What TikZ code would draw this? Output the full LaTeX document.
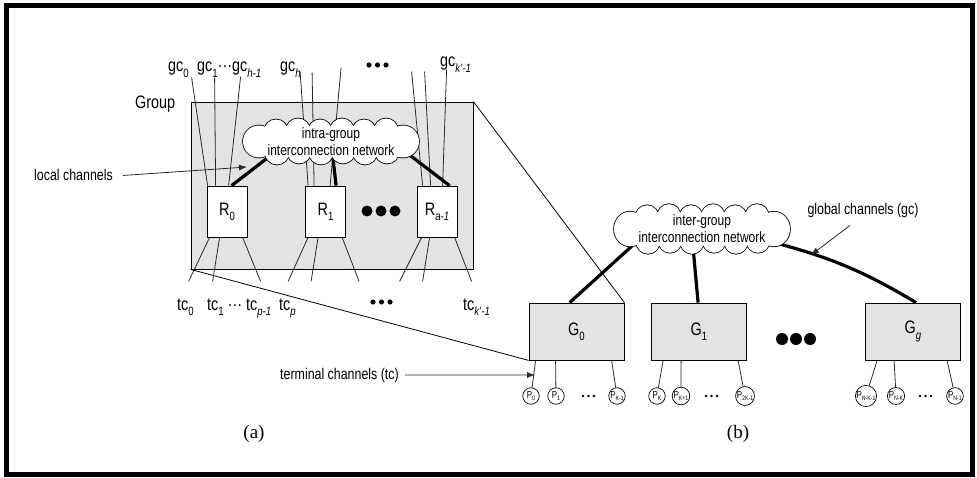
\documentclass[tikz,border=0pt]{standalone}
\usepackage{fontspec}
\setmainfont{Liberation Sans}[FakeStretch=0.8]
\newfontfamily\capfont{Liberation Serif}
\usetikzlibrary{arrows.meta}
\pgfdeclarelayer{bg}
\pgfdeclarelayer{wires}
\pgfdeclarelayer{puffs}
\pgfsetlayers{bg,wires,puffs,main}
\definecolor{boxgray}{HTML}{E3E3E3}
\definecolor{inkgray}{HTML}{2A2A2A}
\newcommand{\lowidx}[1]{\raisebox{-0.55ex}{\fontsize{12}{12}\selectfont #1}}
\newcommand{\tinyidx}[1]{\raisebox{-0.5ex}{\fontsize{6.5}{6.5}\selectfont #1}}
\newcommand{\cloudpuffs}{-72/0/16, -55/-10/12, -33/-11/12, -11/-10/12, 11/-11/12, 33/-10/12, 55/-11/12, 72/0/16, 56/10/12, 34/11/12, 12/10/12, -10/11/12, -32/10/12, -54/11/12}
\tikzset{grpframe/.style = {shape = rectangle, draw, fill = boxgray, line width = 0.8pt, minimum width = 282pt, minimum height = 167pt, inner sep = 0pt}}
\tikzset{router/.style = {shape = rectangle, draw, fill = white, line width = 0.8pt, minimum width = 40pt, minimum height = 51pt, inner sep = 0pt, font = \fontsize{18}{20}\selectfont}}
\tikzset{grpnode/.style = {shape = rectangle, draw, fill = boxgray, line width = 0.8pt, minimum width = 95pt, minimum height = 57pt, inner sep = 0pt, font = \fontsize{18}{20}\selectfont}}
\tikzset{proc/.style = {shape = circle, draw, fill = white, line width = 0.7pt, minimum size = 16.5pt, inner sep = 0pt, font = \fontsize{10}{10}\selectfont}}
\tikzset{netcloud/.style = {shape = rectangle, inner sep = 0pt, align = center, font = \fontsize{15}{17}\selectfont}}
\tikzset{biglabel/.style = {anchor = base west, font = \fontsize{18}{20}\selectfont, inner sep = 0pt}}
\tikzset{note/.style = {font = \fontsize{15.5}{18}\selectfont, inner sep = 0pt}}
\tikzset{caption/.style = {font = \capfont\fontsize{19}{20}\selectfont, inner sep = 0pt}}
\tikzset{chan/.style = {-, draw = inkgray, line width = 0.8pt}}
\tikzset{fatchan/.style = {-, draw = black, line width = 3.2pt}}
\tikzset{pointer/.style = {-{Latex[length = 8pt, width = 6pt]}, draw = inkgray, line width = 0.8pt}}

\begin{document}
\begin{tikzpicture}[x = 1pt, y = -1pt]
	\useasboundingbox (0, 0) rectangle (977, 478);
	\draw[line width = 5pt] (6, 6) rectangle (972, 474);

	\begin{pgfonlayer}{bg}
		\node[grpframe] (grp) at (332, 185.5) {};
	\end{pgfonlayer}

	\node[netcloud] (intra) at (331, 141.5) {intra-group\\interconnection network};

	\node[router] (r0) at (227, 211.5) {R\lowidx{0}};
	\node[router] (r1) at (325.5, 211.5) {R\lowidx{1}};
	\node[router] (ra) at (437, 211.5) {R\lowidx{\itshape a-1}};
	\fill (367, 211) circle (5.5);
	\fill (381, 211) circle (5.5);
	\fill (395, 211) circle (5.5);

	\node[biglabel] (grouplabel) at (135, 109) {Group};
	\node[biglabel] (gc0) at (168, 72) {gc\lowidx{0}};
	\node[biglabel] (gc1) at (197, 72) {gc\lowidx{1}···gc\lowidx{\itshape h-1}};
	\node[biglabel] (gch) at (280, 72) {gc\lowidx{\itshape h}};
	\node[biglabel] (gck) at (440, 67) {gc\lowidx{\itshape k'-1}};
	\fill (369, 65) circle (2.6);
	\fill (377.5, 65) circle (2.6);
	\fill (386, 65) circle (2.6);

	\node[biglabel] (tc0) at (177, 310) {tc\lowidx{0}};
	\node[biglabel] (tc1) at (207, 310) {tc\lowidx{1} ··· tc\lowidx{\itshape p-1}};
	\node[biglabel] (tcp) at (279, 310) {tc\lowidx{\itshape p}};
	\node[biglabel] (tck) at (463, 310) {tc\lowidx{\itshape k'-1}};
	\fill (373, 302) circle (2.6);
	\fill (381.5, 302) circle (2.6);
	\fill (390, 302) circle (2.6);

	\node[note, anchor = base west] (localtext) at (34, 181) {local channels};
	\coordinate (localtip) at (247, 167);

	\node[netcloud] (inter) at (702, 229) {inter-group\\interconnection network};

	\node[grpnode] (g0) at (576.5, 331.5) {G\lowidx{0}};
	\node[grpnode] (g1) at (699, 331.5) {G\lowidx{1}};
	\node[grpnode] (gg) at (913, 331.5) {G\lowidx{\itshape g}};
	\fill (782, 339) circle (6);
	\fill (796, 339) circle (6);
	\fill (810, 339) circle (6);

	\node[proc] (p0) at (531, 396) {P\tinyidx{0}};
	\node[proc] (p1) at (556, 396) {P\tinyidx{1}};
	\node[proc] (pk) at (617, 396) {P\tinyidx{K-1}};
	\node[proc] (pk0) at (657, 396) {P\tinyidx{K}};
	\node[proc] (pk1) at (681, 396) {P\tinyidx{K+1}};
	\node[proc] (p2k) at (745, 396) {P\tinyidx{2K-1}};
	\node[proc] (pnk1) at (866, 396) {P\tinyidx{N-K-1}};
	\node[proc] (pnk) at (896, 396) {P\tinyidx{N-K}};
	\node[proc] (pn) at (955, 396) {P\tinyidx{N-1}};
	\fill (583, 396) circle (1.3);
	\fill (588.5, 396) circle (1.3);
	\fill (594, 396) circle (1.3);
	\fill (706, 396) circle (1.3);
	\fill (711.5, 396) circle (1.3);
	\fill (717, 396) circle (1.3);
	\fill (920, 396) circle (1.3);
	\fill (925.5, 396) circle (1.3);
	\fill (931, 396) circle (1.3);

	\node[note, anchor = base west] (termtext) at (280, 379) {terminal channels (tc)};
	\coordinate (termtip) at (535, 375);
	\node[note] (globtext) at (863, 210) {global channels (gc)};
	\coordinate (globtip) at (811, 255);

	\node[caption] (capa) at (254, 434) {(a)};
	\node[caption] (capb) at (738, 434) {(b)};

	\begin{pgfonlayer}{puffs}
		\begin{scope}[shift = {(intra.center)}]
			\foreach \px/\py/\pr in \cloudpuffs {\draw[line width = 1.6pt] (\px, \py) circle (\pr);}
			\foreach \px/\py/\pr in \cloudpuffs {\fill[white] (\px, \py) circle (\pr);}
			\fill[white] (-72, -10) rectangle (72, 10);
		\end{scope}
		\begin{scope}[shift = {(inter.center)}, yscale = 1.08]
			\foreach \px/\py/\pr in \cloudpuffs {\draw[line width = 1.6pt] (\px, \py) circle (\pr);}
			\foreach \px/\py/\pr in \cloudpuffs {\fill[white] (\px, \py) circle (\pr);}
			\fill[white] (-72, -10) rectangle (72, 10);
		\end{scope}
	\end{pgfonlayer}

	\begin{pgfonlayer}{wires}
		\draw[chan] ([xshift = 1pt]r0.north west) -- ++(-16, -108);
		\draw[chan] ([xshift = 9pt]r0.north west) -- ++(-1, -108);
		\draw[chan] ([xshift = 22pt]r0.north west) -- ++(12, -109);
		\draw[chan] ([xshift = 3pt]r1.north west) -- ++(-8, -114);
		\draw[chan] ([xshift = 9pt]r1.north west) -- ++(-2, -113);
		\draw[chan] ([xshift = 25pt]r1.north west) -- ++(11, -118);
		\draw[chan] ([xshift = 6pt]ra.north west) -- ++(-11, -114);
		\draw[chan] ([xshift = 14pt]ra.north west) -- ++(-6, -114);
		\draw[chan] ([xshift = 26pt]ra.north west) -- ++(4, -116);

		\draw[chan] ([xshift = 3pt]r0.south west) -- ++(-21, 44);
		\draw[chan] ([xshift = 13pt]r0.south west) -- ++(-7, 44);
		\draw[chan] ([xshift = 36pt]r0.south west) -- ++(18, 44);
		\draw[chan] ([xshift = 3pt]r1.south west) -- ++(-20, 44);
		\draw[chan] ([xshift = 13pt]r1.south west) -- ++(-7, 44);
		\draw[chan] ([xshift = 37pt]r1.south west) -- ++(17, 44);
		\draw[chan] ([xshift = 5pt]ra.south west) -- ++(-22, 44);
		\draw[chan] ([xshift = 13pt]ra.south west) -- ++(-7, 44);
		\draw[chan] ([xshift = 38pt]ra.south west) -- ++(17, 44);

		\draw[fatchan] ([xshift = 25pt]r0.north west) -- ([shift = {(-63, 16)}]intra.center);
		\draw[fatchan] ([xshift = 31pt]r1.north west) -- ([shift = {(2, 17)}]intra.center);
		\draw[fatchan] ([xshift = 33pt]ra.north west) -- ([shift = {(74, 10)}]intra.center);

		\draw[fatchan] ([xshift = 41pt]g0.north west) -- ([shift = {(-70, 17)}]inter.center);
		\draw[fatchan] ([xshift = 47pt]g1.north west) -- ([shift = {(-9, 18)}]inter.center);
		\draw[fatchan] ([xshift = 51pt]gg.north west) to[bend right = 8] ([shift = {(70, 13)}]inter.center);

		\draw[chan, black] (grp.south west) -- (g0.south west);
		\draw[chan, black] (grp.north east) -- (g0.north east);

		\draw[chan] ([xshift = 7pt]g0.south west) -- (p0);
		\draw[chan] ([xshift = 27pt]g0.south west) -- (p1);
		\draw[chan] ([xshift = 83pt]g0.south west) -- (pk);
		\draw[chan] ([xshift = 12pt]g1.south west) -- (pk0);
		\draw[chan] ([xshift = 30pt]g1.south west) -- (pk1);
		\draw[chan] ([xshift = 87pt]g1.south west) -- (p2k);
		\draw[chan] ([xshift = 12pt]gg.south west) -- (pnk1);
		\draw[chan] ([xshift = 29pt]gg.south west) -- (pnk);
		\draw[chan] ([xshift = 82pt]gg.south west) -- (pn);
	\end{pgfonlayer}

	\draw[pointer] ([xshift = 10pt]localtext.east) -- (localtip);
	\draw[pointer] ([xshift = 6pt]termtext.east) -- (termtip);
	\draw[pointer] ([shift = {(-13, 8)}]globtext.south) -- (globtip);
\end{tikzpicture}
\end{document}
